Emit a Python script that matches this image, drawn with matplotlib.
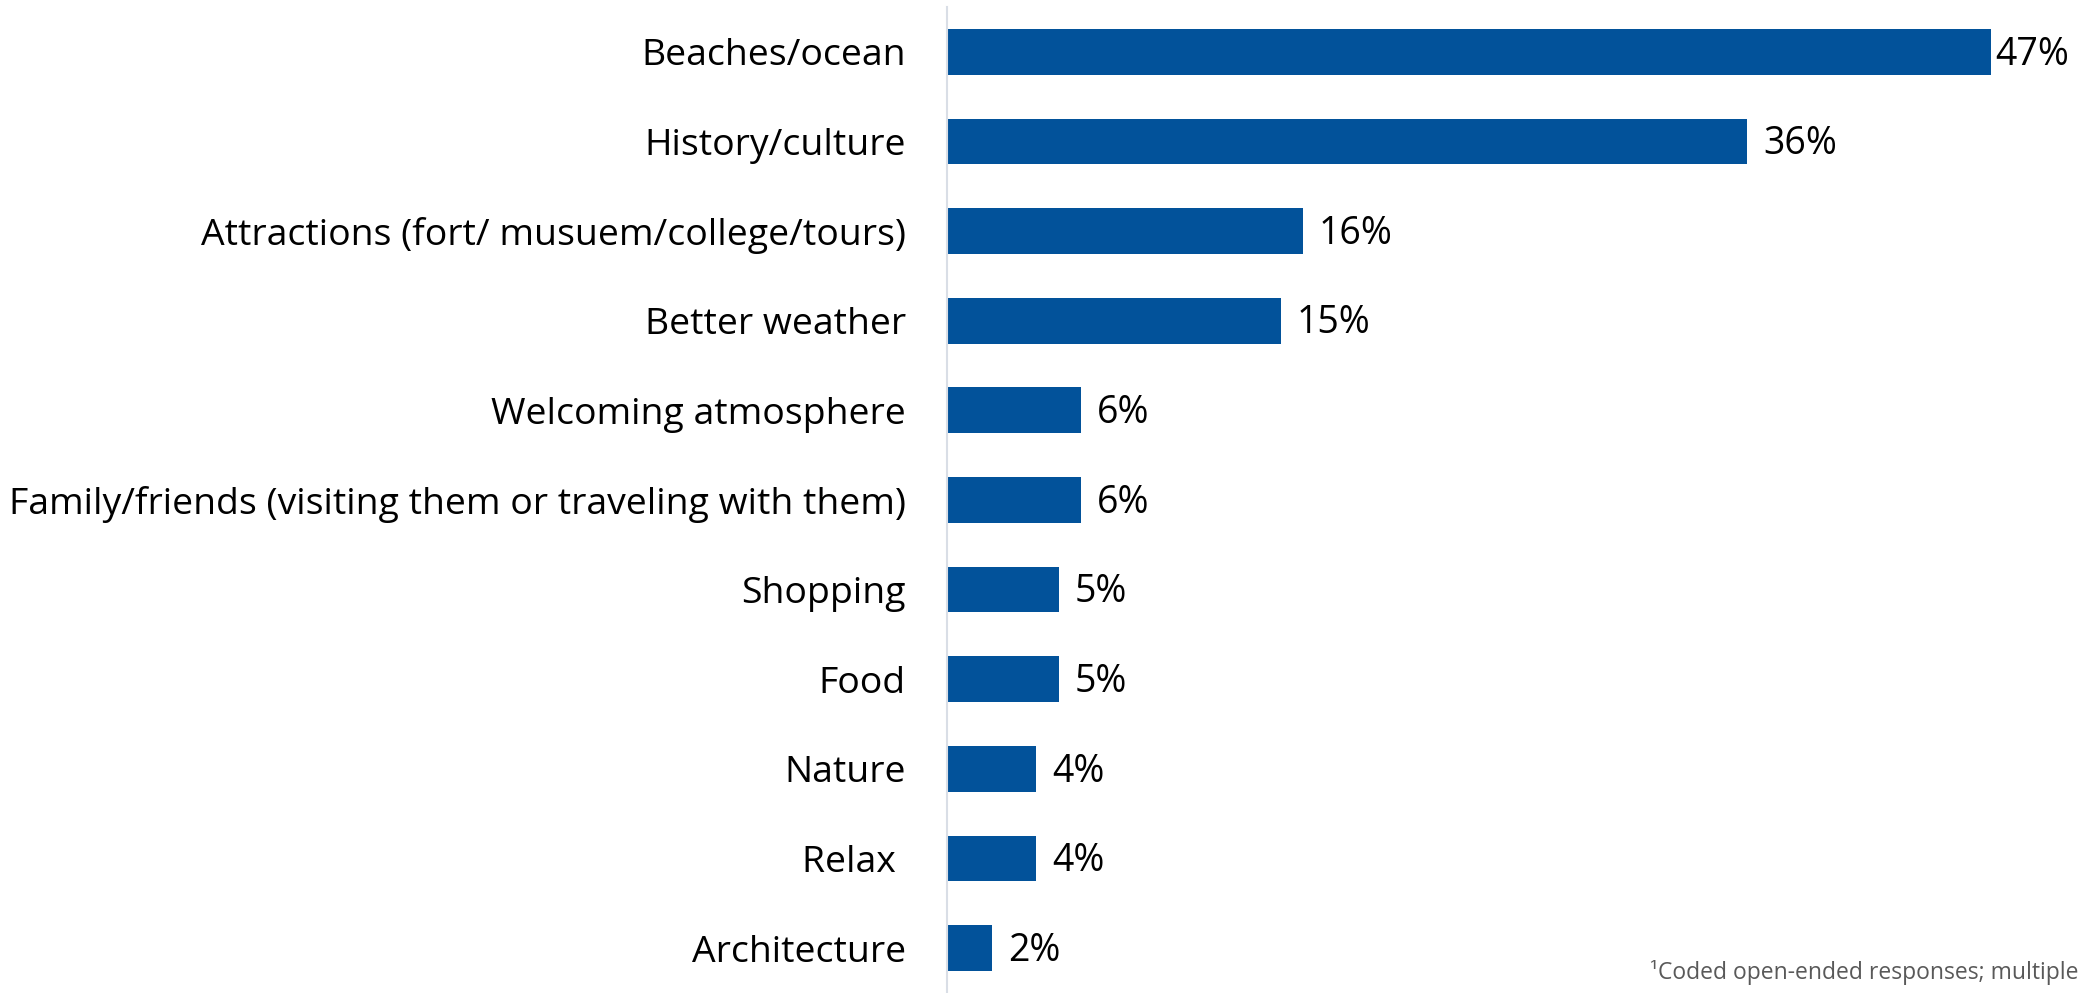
import matplotlib
matplotlib.use("Agg")
import matplotlib.pyplot as plt

plt.rcParams['font.family'] = ['Open Sans', 'DejaVu Sans']

# reasons given for visiting (share of respondents, %)
categories = [
    "Beaches/ocean",
    "History/culture",
    "Attractions (fort/ musuem/college/tours)",
    "Better weather",
    "Welcoming atmosphere",
    "Family/friends (visiting them or traveling with them)",
    "Shopping",
    "Food",
    "Nature",
    "Relax ",
    "Architecture",
]
values = [47, 36, 16, 15, 6, 6, 5, 5, 4, 4, 2]
footnote = "\u00b9Coded open-ended responses; multiple"

bar_color = "#02529a"

fig = plt.figure(figsize=(20.87, 9.93), dpi=100)
ax = fig.add_axes([0.454, 0.0, 0.532, 0.993])

ypos = list(range(len(categories)))
ax.barh(ypos, values, height=0.51, color=bar_color)

ax.set_ylim(len(categories) - 0.5, -0.5)
ax.set_xlim(0, 50)
ax.set_yticks(ypos)
ax.set_yticklabels(categories, fontsize=26.9, color="#000000")
ax.tick_params(axis='y', length=0, pad=30)
ax.set_xticks([])

for side in ['top', 'right', 'bottom']:
    ax.spines[side].set_visible(False)
ax.spines['left'].set_color("#d9dee6")
ax.spines['left'].set_linewidth(1.5)

top = max(values)
for y, v in zip(ypos, values):
    gap = 3 if v == top else 11.5
    ax.annotate(f"{v}%", xy=(v, y), xytext=(gap, -2), textcoords='offset points',
                ha='left', va='center', fontsize=27, color="#000000")

fig.text(0.996, 0.008, footnote, ha='right', va='bottom', fontsize=16.5, color="#595959")

fig.savefig("out.png", dpi=100)
